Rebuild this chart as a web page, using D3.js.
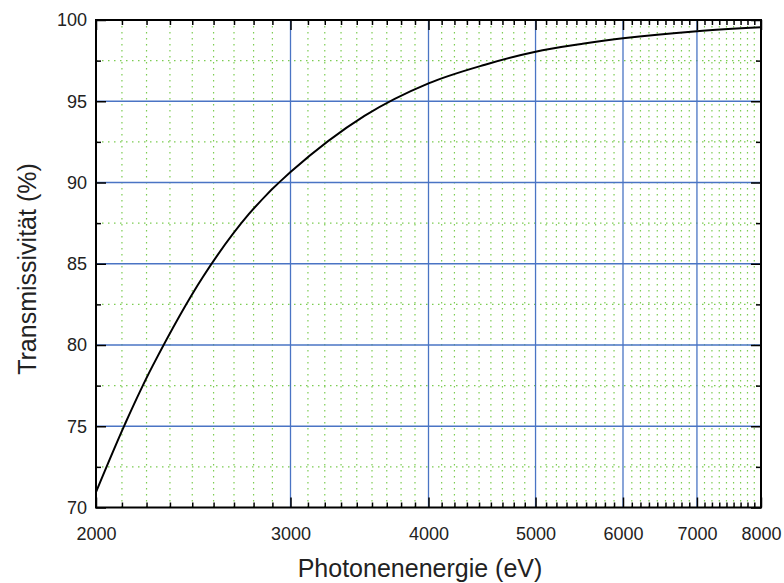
<!DOCTYPE html>
<html>
<head>
<meta charset="utf-8">
<script src="https://cdn.jsdelivr.net/npm/d3@7"></script>
<style>
  body { margin: 0; background: #fff; }
  text { font-family: "Liberation Sans", Arial, sans-serif; fill: #222; }
</style>
</head>
<body>
<div id="chart"></div>
<script>
"use strict";

// photon energy (eV) and transmissivity (%)
const energy = [2000, 2125, 2250, 2500, 2750, 3000, 3500, 4000, 4500, 5000, 5500, 6000, 7000, 8000];
const transmission = [70.95, 75.15, 78.7, 84.2, 88.05, 90.65, 94.1, 96.1, 97.25, 98.05, 98.52, 98.88, 99.31, 99.55];

const xTicks = [2000, 3000, 4000, 5000, 6000, 7000, 8000];
const yTicks = [70, 75, 80, 85, 90, 95, 100];

const width = 784;
const height = 583;
const margin = { top: 20, right: 23, bottom: 75.5, left: 96 };

const svg = d3.select("#chart")
  .append("svg")
  .attr("width", width)
  .attr("height", height);

const x = d3.scaleLog()
  .domain([2000, 8000])
  .range([margin.left, width - margin.right]);
const y = d3.scaleLinear()
  .domain([70, 100])
  .range([height - margin.bottom, margin.top]);

const x0 = x.range()[0], x1 = x.range()[1];
const y0 = y.range()[0], y1 = y.range()[1];

// minor ticks: each major interval split into 9 parts, y every 2.5
const xMinor = [];
for (let i = 0; i < xTicks.length - 1; i++) {
  const step = (xTicks[i + 1] - xTicks[i]) / 9;
  for (let k = 1; k < 9; k++) xMinor.push(xTicks[i] + k * step);
}
const yMinor = yTicks.slice(0, -1).map(v => v + 2.5);

const green = "#7ccc52";
const blue = "#4a74c4";

// green dotted minor grid
svg.append("g")
  .selectAll("line")
  .data(xMinor)
  .enter()
  .append("line")
  .attr("x1", d => x(d)).attr("x2", d => x(d))
  .attr("y1", y1).attr("y2", y0)
  .attr("stroke", green)
  .attr("stroke-width", 1.2)
  .attr("stroke-dasharray", "1.5,4.5");

svg.append("g")
  .selectAll("line")
  .data(yMinor)
  .enter()
  .append("line")
  .attr("x1", x0).attr("x2", x1)
  .attr("y1", d => y(d)).attr("y2", d => y(d))
  .attr("stroke", green)
  .attr("stroke-width", 1.2)
  .attr("stroke-dasharray", "1.5,4.5");

// blue major grid
svg.append("g")
  .selectAll("line")
  .data(xTicks.slice(1, -1))
  .enter()
  .append("line")
  .attr("x1", d => x(d)).attr("x2", d => x(d))
  .attr("y1", y1).attr("y2", y0)
  .attr("stroke", blue)
  .attr("stroke-width", 1.3);

svg.append("g")
  .selectAll("line")
  .data(yTicks.slice(1, -1))
  .enter()
  .append("line")
  .attr("x1", x0).attr("x2", x1)
  .attr("y1", d => y(d)).attr("y2", d => y(d))
  .attr("stroke", blue)
  .attr("stroke-width", 1.3);

// axes with inward ticks on all four sides
function tickSet(axisFn, scale, values, size, labels) {
  return axisFn(scale)
    .tickValues(values)
    .tickSizeInner(-size)
    .tickSizeOuter(0)
    .tickFormat(labels ? d3.format("d") : "");
}

function drawAxis(axisFn, scale, transform, major, minor, labels) {
  const g = svg.append("g").attr("transform", transform);
  g.append("g").call(tickSet(axisFn, scale, minor, 5, false));
  const m = g.append("g").call(tickSet(axisFn, scale, major, 10, labels));
  g.selectAll(".domain").remove();
  g.selectAll(".tick line").attr("stroke", "#000").attr("stroke-width", 1.5);
  return m;
}

const bottom = drawAxis(d3.axisBottom, x, `translate(0,${y0})`, xTicks, xMinor, true);
bottom.selectAll("text")
  .attr("y", 20)
  .style("font-size", "18px");

drawAxis(d3.axisTop, x, `translate(0,${y1})`, xTicks, xMinor, false);

const left = drawAxis(d3.axisLeft, y, `translate(${x0},0)`, yTicks, yMinor, true);
left.selectAll("text")
  .attr("x", -9)
  .style("font-size", "18px");

drawAxis(d3.axisRight, y, `translate(${x1},0)`, yTicks, yMinor, false);

svg.selectAll(".tick text").attr("fill", "#222");

// frame
svg.append("rect")
  .attr("x", x0).attr("y", y1)
  .attr("width", x1 - x0).attr("height", y0 - y1)
  .attr("fill", "none")
  .attr("stroke", "#000")
  .attr("stroke-width", 2);

// curve
const line = d3.line()
  .x((d, i) => x(energy[i]))
  .y(d => y(d))
  .curve(d3.curveCatmullRom.alpha(0.5));

svg.append("path")
  .datum(transmission)
  .attr("d", line)
  .attr("fill", "none")
  .attr("stroke", "#000")
  .attr("stroke-width", 2);

// axis titles
svg.append("text")
  .attr("x", 420)
  .attr("y", 577)
  .attr("text-anchor", "middle")
  .style("font-size", "25px")
  .text("Photonenenergie (eV)");

svg.append("text")
  .attr("transform", "translate(36,269) rotate(-90)")
  .attr("text-anchor", "middle")
  .style("font-size", "25px")
  .text("Transmissivität (%)");
</script>
</body>
</html>
